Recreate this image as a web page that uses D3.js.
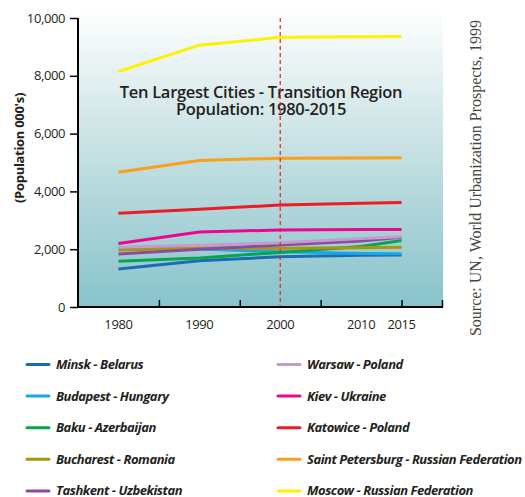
<!DOCTYPE html>
<html>
<head>
<meta charset="utf-8">
<script src="https://cdn.jsdelivr.net/npm/d3@7"></script>
<style>
  body { margin: 0; background: #fff; }
  svg { display: block; }
</style>
</head>
<body>
<div id="chart"></div>
<script>
var years = [1980, 1990, 2000, 2010, 2015];
var yearLabels = ["1980", "1990", "2000", "2010", "2015"];
var xTickMarks = [1985, 1995, 2005, 2015, 2020];
var yTicks = [0, 2000, 4000, 6000, 8000, 10000];

var cities = ["Minsk - Belarus", "Budapest - Hungary", "Baku - Azerbaijan", "Bucharest - Romania",
    "Tashkent - Uzbekistan", "Warsaw - Poland", "Kiev - Ukraine", "Katowice - Poland",
    "Saint Petersburg - Russian Federation", "Moscow - Russian Federation"];

var minsk = [1315, 1600, 1740, 1790, 1800];
var budapest = [2060, 2010, 1910, 1850, 1840];
var baku = [1580, 1695, 1890, 2090, 2300];
var bucharest = [1970, 2040, 2030, 2050, 2065];
var tashkent = [1835, 2000, 2145, 2280, 2410];
var warsaw = [2065, 2135, 2225, 2370, 2430];
var kiev = [2200, 2595, 2665, 2680, 2680];
var katowice = [3240, 3380, 3530, 3590, 3620];
var stPetersburg = [4660, 5070, 5150, 5160, 5165];
var moscow = [8150, 9060, 9330, 9350, 9360];

var colors = ["#1b6db3", "#1aa8e4", "#0aa34f", "#a8960e", "#8d4b9d",
    "#c49cd0", "#ec068d", "#ec1c24", "#f8a11b", "#fff200"];

var series = [minsk, budapest, baku, bucharest, tashkent, warsaw, kiev, katowice, stPetersburg, moscow];

var W = 525, H = 497;
var svg = d3.select("#chart").append("svg")
    .attr("width", W)
    .attr("height", H);

var x = d3.scaleLinear().domain([1975, 2020]).range([78, 442]);
var y = d3.scaleLinear().domain([0, 10000]).range([307, 18]);

var defs = svg.append("defs");
var grad = defs.append("linearGradient")
    .attr("id", "bg")
    .attr("x1", 0).attr("y1", 0).attr("x2", 0).attr("y2", 1);
grad.append("stop").attr("offset", "0%").attr("stop-color", "#ffffff");
grad.append("stop").attr("offset", "45%").attr("stop-color", "#c9e2e4");
grad.append("stop").attr("offset", "100%").attr("stop-color", "#88c3cb");

svg.append("rect")
    .attr("x", 78).attr("y", 8)
    .attr("width", 443 - 78).attr("height", 307 - 8)
    .attr("fill", "url(#bg)");

// title
var title = svg.append("text")
    .attr("x", 261).attr("y", 98)
    .attr("text-anchor", "middle")
    .style("font-family", "'Open Sans', sans-serif")
    .style("font-weight", 600)
    .style("font-size", "16.5px")
    .style("letter-spacing", "-0.3px")
    .attr("fill", "#231f20");
title.append("tspan").attr("x", 261).attr("dy", 0).text("Ten Largest Cities - Transition Region");
title.append("tspan").attr("x", 261).attr("dy", 16.5).text("Population: 1980-2015");

// city lines
var line = d3.line()
    .x(function (d, i) { return x(years[i]); })
    .y(function (d) { return y(d); });

svg.append("g").selectAll("path")
    .data(series)
    .enter()
    .append("path")
    .attr("d", line)
    .attr("fill", "none")
    .attr("stroke", function (d, i) { return colors[i]; })
    .attr("stroke-width", 3);

// year 2000 marker
svg.append("line")
    .attr("x1", x(2000)).attr("x2", x(2000))
    .attr("y1", y(10000)).attr("y2", y(0))
    .attr("stroke", "#ee1c25")
    .attr("stroke-width", 1.2)
    .attr("stroke-dasharray", "4,3");

// y axis
var yAxis = svg.append("g")
    .attr("transform", "translate(78,0)")
    .call(d3.axisLeft(y).tickValues(yTicks).tickSize(8).tickPadding(5)
        .tickFormat(d3.format(",")));
yAxis.select(".domain").attr("d", "M0," + y(10000) + "V" + y(0)).attr("stroke-width", 2);
yAxis.selectAll(".tick line").attr("stroke-width", 1.5);
yAxis.selectAll("text")
    .style("font-family", "'Open Sans', sans-serif")
    .style("font-size", "13px")
    .style("letter-spacing", "-0.4px")
    .attr("fill", "#231f20");

// x axis: marks and labels sit at different years
var xAxis = svg.append("g")
    .attr("transform", "translate(0,307)")
    .call(d3.axisTop(x).tickValues(xTickMarks).tickSize(7).tickFormat(""));
xAxis.select(".domain").attr("d", "M78,0H443").attr("stroke-width", 2);
xAxis.selectAll(".tick line").attr("stroke-width", 1.5);

svg.append("g").selectAll("text")
    .data(yearLabels)
    .enter()
    .append("text")
    .attr("x", function (d, i) { return x(years[i]); })
    .attr("y", 329)
    .attr("text-anchor", "middle")
    .style("font-family", "'Open Sans', sans-serif")
    .style("font-size", "13px")
    .style("letter-spacing", "-0.4px")
    .attr("fill", "#231f20")
    .text(function (d) { return d; });

// y axis title
svg.append("text")
    .attr("transform", "translate(24,148) rotate(-90)")
    .attr("text-anchor", "middle")
    .style("font-family", "'Open Sans', sans-serif")
    .style("font-weight", 700)
    .style("font-size", "13px")
    .style("letter-spacing", "-0.3px")
    .attr("fill", "#231f20")
    .text("(Population 000's)");

// source
svg.append("text")
    .attr("transform", "translate(481,178) rotate(-90)")
    .attr("text-anchor", "middle")
    .style("font-family", "'Liberation Serif', serif")
    .style("font-size", "16px")
    .attr("fill", "#444")
    .text("Source: UN, World Urbanization Prospects, 1999");

// legend
var legend = svg.append("g").selectAll("g")
    .data(cities)
    .enter()
    .append("g")
    .attr("transform", function (d, i) {
        var col = i < 5 ? 0 : 1;
        var row = i % 5;
        return "translate(" + (col === 0 ? 27 : 278) + "," + (364.5 + row * 31.6) + ")";
    });

legend.append("line")
    .attr("x1", 0).attr("x2", 22)
    .attr("stroke", function (d, i) { return colors[i]; })
    .attr("stroke-width", 3)
    .attr("stroke-linecap", "round");

legend.append("text")
    .attr("x", 29).attr("y", 4.5)
    .style("font-family", "'Open Sans', sans-serif")
    .style("font-weight", 700)
    .style("font-style", "italic")
    .style("font-size", "13px")
    .style("letter-spacing", "-0.45px")
    .attr("fill", "#231f20")
    .text(function (d) { return d; });
</script>
</body>
</html>
